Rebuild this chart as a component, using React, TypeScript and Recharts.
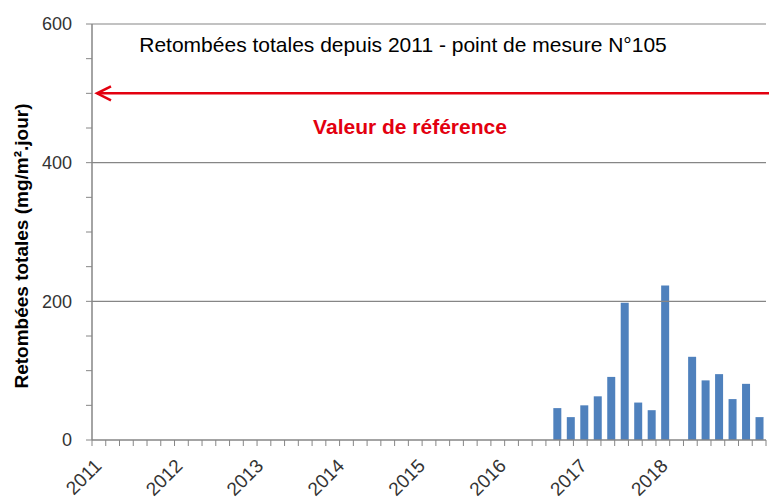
import { BarChart, Bar, XAxis, YAxis, ReferenceLine, Label } from 'recharts';

const years = ['2011', '2012', '2013', '2014', '2015', '2016', '2017', '2018', '2019'];
const bimonths = ['janv-févr', 'mars-avr', 'mai-juin', 'juil-août', 'sept-oct', 'nov-déc'];
const yearLabels = ['2011', '2012', '2013', '2014', '2015', '2016', '2017', '2018'];

// 50 bimonthly periods from early 2011
const periods = years.flatMap((y) => bimonths.map((b) => `${b} ${y}`)).slice(0, 50);

// measurements start in sept-oct 2016, one gap (no sample)
const firstPeriod = 'sept-oct 2016';
const falloutValues = [46, 33, 50, 63, 91, 198, 54, 43, 223, null, 120, 86, 95, 59, 81, 33];

const referenceValue = 500;
const gridValues = [200, 400, 600];
const yTicks = [0, 50, 100, 150, 200, 250, 300, 350, 400, 450, 500, 550, 600];
const yLabelTicks = [0, 200, 400, 600];

const start = periods.indexOf(firstPeriod);
const data = periods.map((period, i) => ({
  period,
  value: i >= start ? falloutValues[i - start] ?? null : null,
}));

const tickBounds = Array.from({ length: periods.length + 1 }, (_, i) => i);

const GRAY = '#868686';
const RED = '#e3000f';
const FONT = 'Liberation Sans, Arial, sans-serif';

function YearTick({ x, y, payload }: any) {
  const b = payload.value.slice(0, payload.value.lastIndexOf(' '));
  const year = payload.value.slice(-4);
  if (b !== bimonths[0] || !yearLabels.includes(year)) return <g />;
  const ax = x + 4;
  const ay = y + 26;
  return (
    <text
      x={ax}
      y={ay}
      transform={`rotate(-45, ${ax}, ${ay})`}
      textAnchor="end"
      fontSize={19}
      fontFamily={FONT}
      fill="#333"
    >
      {year}
    </text>
  );
}

function ArrowLine({ x1, y1, x2 }: any) {
  const tip = x1 + 5;
  return (
    <g>
      <line x1={tip} y1={y1} x2={x2 + 3} y2={y1} stroke={RED} strokeWidth={2.5} />
      <polyline
        points={`${tip + 14},${y1 - 7} ${tip},${y1} ${tip + 14},${y1 + 7}`}
        fill="none"
        stroke={RED}
        strokeWidth={2.5}
      />
      <text
        x={410}
        y={y1 + 41}
        textAnchor="middle"
        fontSize={21}
        fontWeight="bold"
        fontFamily={FONT}
        fill={RED}
      >
        Valeur de référence
      </text>
    </g>
  );
}

export default function App() {
  return (
    <div style={{ position: 'absolute', left: 0, top: 0, background: '#fff' }}>
      <BarChart
        width={769}
        height={500}
        data={data}
        margin={{ top: 24, right: 3, left: 0, bottom: 0 }}
      >
        <XAxis
          xAxisId="bounds"
          type="number"
          domain={[0, periods.length]}
          ticks={tickBounds}
          interval={0}
          tick={() => <g />}
          tickSize={6}
          tickLine={{ stroke: GRAY }}
          axisLine={{ stroke: GRAY, strokeWidth: 1.5 }}
          height={1}
        />
        <XAxis
          xAxisId="cat"
          dataKey="period"
          interval={0}
          height={59}
          tickLine={false}
          tickSize={0}
          tickMargin={0}
          axisLine={false}
          tick={<YearTick />}
        />
        <YAxis
          width={92}
          domain={[0, 600]}
          ticks={yTicks}
          interval={0}
          tickSize={6}
          tickMargin={14}
          tickLine={{ stroke: GRAY }}
          axisLine={{ stroke: GRAY, strokeWidth: 1.5 }}
          tickFormatter={(v: number) => (yLabelTicks.includes(v) ? String(v) : '')}
          tick={{ fontSize: 18, fontFamily: FONT, fill: '#333' }}
        >
          <Label
            content={() => (
              <text
                x={28}
                y={246}
                transform="rotate(-90, 28, 246)"
                textAnchor="middle"
                fontSize={19}
                fontWeight="bold"
                fontFamily={FONT}
                fill="#000"
              >
                Retombées totales (mg/m².jour)
              </text>
            )}
          />
        </YAxis>
        {gridValues.map((v) => (
          <ReferenceLine key={v} xAxisId="cat" y={v} stroke={GRAY} strokeWidth={1.2} />
        ))}
        <ReferenceLine xAxisId="cat" y={referenceValue} shape={<ArrowLine />} />
        <Bar
          xAxisId="cat"
          dataKey="value"
          fill="#4f81bd"
          barSize={8}
          isAnimationActive={false}
        />
        <text
          x={403}
          y={52}
          textAnchor="middle"
          fontSize={21}
          fontFamily={FONT}
          fill="#000"
        >
          Retombées totales depuis 2011 - point de mesure N°105
        </text>
      </BarChart>
    </div>
  );
}
